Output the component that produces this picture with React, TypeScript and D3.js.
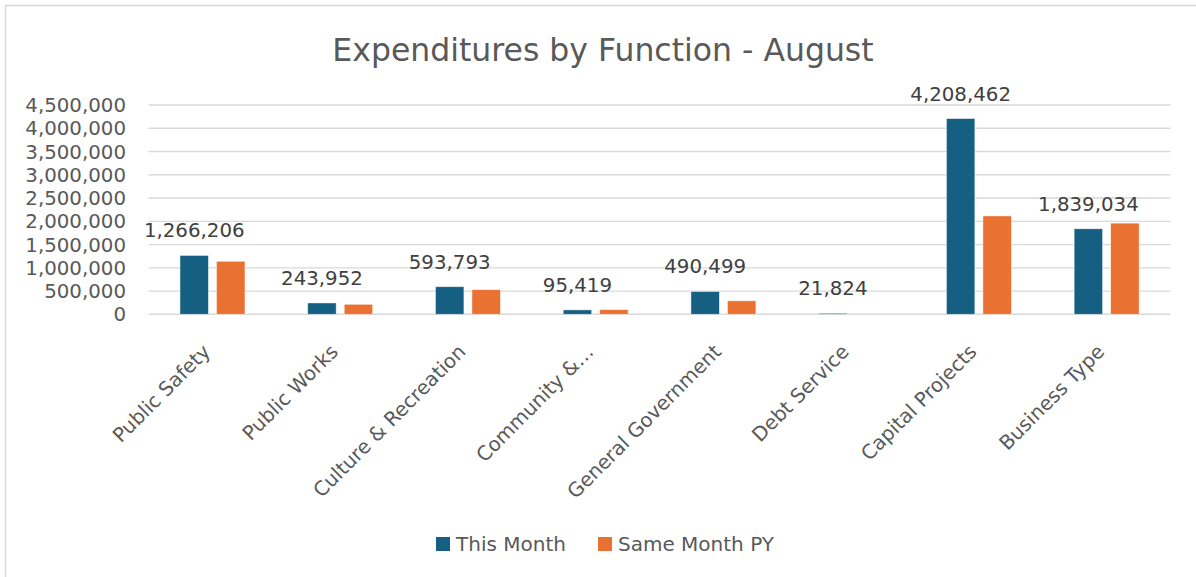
import * as d3 from "d3";

// ── Data ──────────────────────────────────────────────────────────────────────

const CATEGORIES = [
  "Public Safety",
  "Public Works",
  "Culture & Recreation",
  "Community &…",
  "General Government",
  "Debt Service",
  "Capital Projects",
  "Business Type",
];

const THIS_MONTH = [1266206, 243952, 593793, 95419, 490499, 21824, 4208462, 1839034];
const SAME_MONTH_PY = [1140000, 215000, 530000, 100000, 290000, 0, 2115000, 1960000];

const SERIES = ["This Month", "Same Month PY"];
const Y_TICKS = [0, 500000, 1000000, 1500000, 2000000, 2500000, 3000000, 3500000, 4000000, 4500000];

// ── Layout ────────────────────────────────────────────────────────────────────

const W = 1196;
const H = 577;
const PLOT = { left: 148.6, right: 1170.5, top: 105, bottom: 314.3 };
const GROUP_W = 65;
const COLORS = ["#156082", "#E97132"];
const FONT = "'DejaVu Sans', sans-serif";
const fmt = d3.format(",");

export default function App() {
  const x0 = d3.scaleBand().domain(CATEGORIES).range([PLOT.left, PLOT.right]);
  const bw = x0.bandwidth();
  const x1 = d3
    .scaleBand()
    .domain(SERIES)
    .range([(bw - GROUP_W) / 2, (bw + GROUP_W) / 2])
    .paddingInner(0.22);
  const y = d3.scaleLinear().domain([0, 4500000]).range([PLOT.bottom, PLOT.top]);

  const values = [THIS_MONTH, SAME_MONTH_PY];
  const labelX = (x1(SERIES[0]) ?? 0) + x1.bandwidth() / 2;

  return (
    <svg
      width={W}
      height={H}
      style={{ position: "absolute", left: 0, top: 0, background: "#fff" }}
      fontFamily={FONT}
    >
      {/* frame */}
      <rect x={5.5} y={5.5} width={1300} height={700} fill="#fff" stroke="#d9d9d9" strokeWidth={1.5} />

      {/* title */}
      <text x={603} y={61} textAnchor="middle" fontSize={31.5} fill="#595959">
        Expenditures by Function - August
      </text>

      {/* grid + y labels */}
      {Y_TICKS.map((t) => (
        <g key={t}>
          <line
            x1={PLOT.left}
            x2={PLOT.right}
            y1={y(t)}
            y2={y(t)}
            stroke="#d9d9d9"
            strokeWidth={t === 0 ? 1.6 : 1.3}
          />
          <text
            x={126}
            y={y(t)}
            dy="0.36em"
            textAnchor="end"
            fontSize={19.8}
            fill="#595959"
          >
            {fmt(t)}
          </text>
        </g>
      ))}

      {/* bars */}
      {CATEGORIES.map((c, i) => (
        <g key={c} transform={`translate(${x0(c)},0)`}>
          {SERIES.map((s, si) => {
            const v = values[si][i];
            if (!v) return null;
            return (
              <rect
                key={s}
                x={x1(s)}
                y={y(v)}
                width={x1.bandwidth()}
                height={y(0) - y(v)}
                fill={COLORS[si]}
                stroke="#ffffff"
                strokeOpacity={0.6}
                strokeWidth={0.8}
              />
            );
          })}
          <text
            x={labelX}
            y={y(THIS_MONTH[i]) - 18}
            textAnchor="middle"
            fontSize={19.8}
            fill="#404040"
          >
            {fmt(THIS_MONTH[i])}
          </text>
        </g>
      ))}

      {/* x labels */}
      {CATEGORIES.map((c) => (
        <text
          key={c}
          transform={`translate(${(x0(c) ?? 0) + bw / 2 - 1},353) rotate(-45)`}
          textAnchor="end"
          fontSize={19.8}
          fill="#595959"
        >
          {c}
        </text>
      ))}

      {/* legend */}
      {SERIES.map((s, si) => {
        const lx = [436, 598][si];
        return (
          <g key={s} transform={`translate(${lx},537)`}>
            <rect width={14} height={14} fill={COLORS[si]} />
            <text x={20} y={7} dy="0.36em" fontSize={20} fill="#595959">
              {s}
            </text>
          </g>
        );
      })}
    </svg>
  );
}
